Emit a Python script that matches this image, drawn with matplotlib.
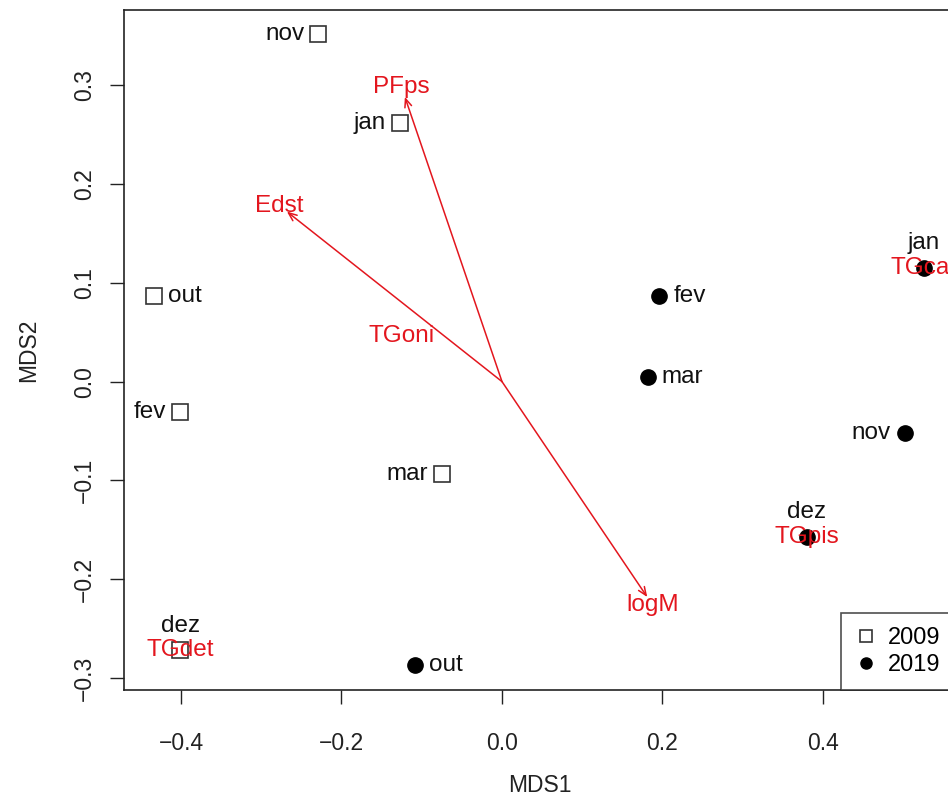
import matplotlib
matplotlib.use("Agg")
import matplotlib.pyplot as plt
from matplotlib.lines import Line2D

plt.rcParams['font.family'] = ['Liberation Sans', 'DejaVu Sans']

# site scores, 2009 (open squares)
months_2009 = ['nov', 'jan', 'out', 'fev', 'mar', 'dez']
mds1_2009 = [-0.229, -0.127, -0.434, -0.401, -0.075, -0.401]
mds2_2009 = [0.352, 0.262, 0.087, -0.031, -0.093, -0.272]
side_2009 = ['left', 'left', 'right', 'left', 'left', 'above']

# site scores, 2019 (filled circles)
months_2019 = ['jan', 'fev', 'mar', 'nov', 'dez', 'out']
mds1_2019 = [0.526, 0.196, 0.182, 0.502, 0.380, -0.108]
mds2_2019 = [0.115, 0.087, 0.005, -0.052, -0.157, -0.287]
side_2019 = ['above', 'right', 'right', 'left', 'above', 'right']

# fitted vectors
vec_names = ['PFps', 'Edst', 'logM']
vec_mds1 = [-0.121, -0.268, 0.181]
vec_mds2 = [0.288, 0.172, -0.218]

# factor centroids
cent_names = ['TGoni', 'TGdet', 'TGpis', 'TGcar']
cent_mds1 = [-0.125, -0.401, 0.380, 0.526]
cent_mds2 = [0.046, -0.272, -0.157, 0.115]

red = '#e3161e'
fs = 17.5

fig = plt.figure(figsize=(9.48, 7.96), dpi=100)
ax = fig.add_axes([0.1308, 0.1332, 0.8766, 0.8543])
ax.set_xlim(-0.471, 0.5645)
ax.set_ylim(-0.312, 0.376)

ax.plot(mds1_2009, mds2_2009, 's', ms=11, mfc='white', mec='#333333', mew=1.2)
ax.plot(mds1_2019, mds2_2019, 'o', ms=11, mfc='black', mec='black')

offsets = {'left': ((-10, 0), 'right', 'center'),
           'right': ((10, 0), 'left', 'center'),
           'above': ((0, 10), 'center', 'bottom')}

for names, xs, ys, sides in [(months_2009, mds1_2009, mds2_2009, side_2009),
                             (months_2019, mds1_2019, mds2_2019, side_2019)]:
    for n, x, y, s in zip(names, xs, ys, sides):
        off, ha, va = offsets[s]
        ax.annotate(n, (x, y), xytext=off, textcoords='offset points',
                    ha=ha, va=va, fontsize=fs, color='#111111')

for n, x, y in zip(vec_names, vec_mds1, vec_mds2):
    ax.annotate('', xy=(x, y), xytext=(0, 0),
                arrowprops=dict(arrowstyle='->,head_length=0.6,head_width=0.25',
                                color=red, lw=1.1, shrinkA=0, shrinkB=0))
    ax.text(x * 1.035, y * 1.035, n, color=red, fontsize=fs, ha='center', va='center')

for n, x, y in zip(cent_names, cent_mds1, cent_mds2):
    ax.text(x, y, n, color=red, fontsize=fs, ha='center', va='center')

ax.set_xticks([-0.4, -0.2, 0.0, 0.2, 0.4])
ax.set_yticks([-0.3, -0.2, -0.1, 0.0, 0.1, 0.2, 0.3])
ax.set_xticklabels(['\u22120.4', '\u22120.2', '0.0', '0.2', '0.4'])
ax.set_yticklabels(['\u22120.3', '\u22120.2', '\u22120.1', '0.0', '0.1', '0.2', '0.3'],
                   rotation=90, va='center')
ax.tick_params(direction='out', length=10, width=1, labelsize=16.5, colors='#222222')
ax.tick_params(axis='x', pad=20)
ax.tick_params(axis='y', pad=10)
for sp in ax.spines.values():
    sp.set_linewidth(1.2)
    sp.set_color('#222222')

ax.set_xlabel('MDS1', fontsize=16.5, labelpad=14, color='#222222')
ax.set_ylabel('MDS2', fontsize=16.5, labelpad=24, color='#222222')

handles = [Line2D([], [], ls='none', marker='s', ms=9, mfc='white', mec='#333333', mew=1.2),
           Line2D([], [], ls='none', marker='o', ms=8, mfc='black', mec='black')]
leg = ax.legend(handles, ['2009', '2019'], loc='lower right', borderaxespad=0,
                fontsize=17, frameon=True, fancybox=False, edgecolor='#222222',
                handlelength=0.9, handletextpad=0.5, borderpad=0.6, labelspacing=0.2)
leg.get_frame().set_linewidth(1.2)

fig.savefig('out.png', dpi=100)
